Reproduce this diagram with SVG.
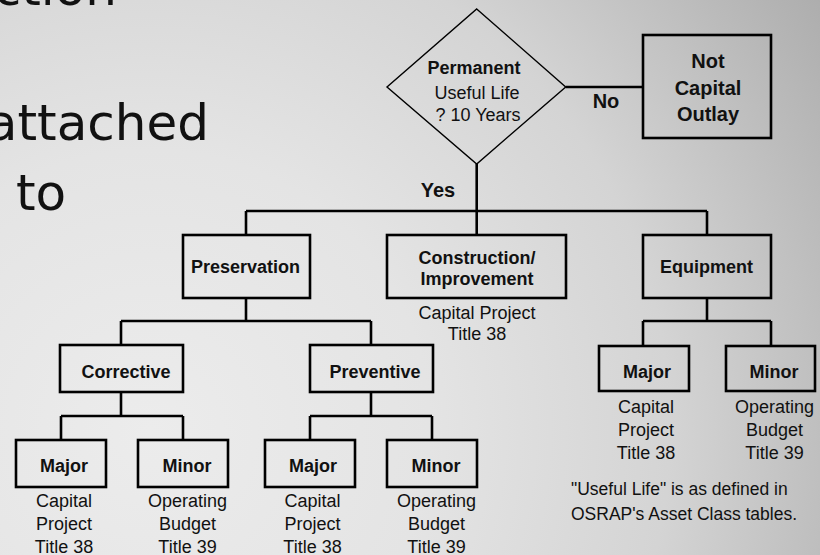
<svg xmlns="http://www.w3.org/2000/svg" width="820" height="555" viewBox="0 0 820 555">
<defs>
<radialGradient id="bg" gradientUnits="userSpaceOnUse" cx="150" cy="430" r="800">
<stop offset="0" stop-color="#ececec"/>
<stop offset="0.35" stop-color="#e4e4e4"/>
<stop offset="0.65" stop-color="#d4d4d4"/>
<stop offset="1" stop-color="#adadad"/>
</radialGradient>
<style>
.box{fill:none;stroke:#000;stroke-width:2.6}
.dia{fill:none;stroke:#000;stroke-width:1.4}
.con line{stroke:#000;stroke-width:2.6}
text{font-family:"Liberation Sans",Arial,sans-serif;fill:#111}
.b{font-weight:bold;font-size:18px;text-anchor:middle}
.bl{font-weight:bold;font-size:20px;text-anchor:middle}
.r{font-size:18px;text-anchor:middle}
.fn{font-size:17.5px}
.big{font-family:"DejaVu Sans",Verdana,sans-serif;font-size:50px;fill:#111}
</style>
</defs>
<rect width="820" height="555" fill="url(#bg)"/>
<text class="big" x="117" y="5" text-anchor="end">ction</text>
<text class="big" x="209" y="140" text-anchor="end">attached</text>
<text class="big" x="16" y="210">to</text>

<g class="con" id="connectors">
<line x1="565.7" y1="87" x2="643" y2="87"/>
<line x1="476.7" y1="164" x2="476.7" y2="235"/>
<line x1="246" y1="211" x2="707" y2="211"/>
<line x1="246" y1="211" x2="246" y2="235"/>
<line x1="707" y1="211" x2="707" y2="235"/>
<line x1="246" y1="298" x2="246" y2="321"/>
<line x1="121" y1="321" x2="371" y2="321"/>
<line x1="121" y1="321" x2="121" y2="345"/>
<line x1="371" y1="321" x2="371" y2="345"/>
<line x1="121" y1="392" x2="121" y2="416"/>
<line x1="61" y1="416" x2="183" y2="416"/>
<line x1="61" y1="416" x2="61" y2="440"/>
<line x1="183" y1="416" x2="183" y2="440"/>
<line x1="371" y1="392" x2="371" y2="416"/>
<line x1="310" y1="416" x2="432" y2="416"/>
<line x1="310" y1="416" x2="310" y2="440"/>
<line x1="432" y1="416" x2="432" y2="440"/>
<line x1="707" y1="298" x2="707" y2="321"/>
<line x1="643" y1="321" x2="771" y2="321"/>
<line x1="643" y1="321" x2="643" y2="346"/>
<line x1="771" y1="321" x2="771" y2="346"/>
<text class="bl" x="606" y="108">No</text>
<text class="bl" x="438" y="197">Yes</text>
</g>

<g id="decision">
<polygon class="dia" points="476.7,9 565.7,87 476.7,164 387,87"/>
<text class="b" x="474" y="74">Permanent</text>
<text class="r" x="477" y="99">Useful Life</text>
<text class="r" x="478" y="121">? 10 Years</text>
</g>
<g id="not-capital">
<rect class="box" x="643" y="35" width="128" height="103"/>
<text class="bl" x="708" y="67.5">Not</text>
<text class="bl" x="708" y="94.5">Capital</text>
<text class="bl" x="708" y="121">Outlay</text>
</g>
<g id="preservation">
<rect class="box" x="183" y="235" width="127" height="63"/>
<text class="b" x="245.5" y="273">Preservation</text>
</g>
<g id="construction">
<rect class="box" x="387" y="235" width="179" height="63"/>
<text class="b" x="477" y="264">Construction/</text>
<text class="b" x="477" y="285">Improvement</text>
<text class="r" x="477" y="319">Capital Project</text>
<text class="r" x="477" y="340">Title 38</text>
</g>
<g id="equipment">
<rect class="box" x="643" y="235" width="128" height="63"/>
<text class="b" x="706.5" y="273">Equipment</text>
</g>
<g id="corrective">
<rect class="box" x="60" y="345" width="123" height="47"/>
<text class="b" x="126" y="378">Corrective</text>
</g>
<g id="preventive">
<rect class="box" x="310" y="345" width="123" height="47"/>
<text class="b" x="375" y="378">Preventive</text>
</g>
<g id="corrective-major">
<rect class="box" x="16" y="440" width="90" height="47"/>
<text class="b" x="64" y="472">Major</text>
<text class="r" x="64" y="507">Capital</text>
<text class="r" x="64" y="530">Project</text>
<text class="r" x="64" y="552.5">Title 38</text>
</g>
<g id="corrective-minor">
<rect class="box" x="138" y="440" width="90" height="47"/>
<text class="b" x="187" y="472">Minor</text>
<text class="r" x="187.5" y="507">Operating</text>
<text class="r" x="187.5" y="530">Budget</text>
<text class="r" x="187.5" y="552.5">Title 39</text>
</g>
<g id="preventive-major">
<rect class="box" x="265" y="440" width="90" height="47"/>
<text class="b" x="313" y="472">Major</text>
<text class="r" x="312.5" y="507">Capital</text>
<text class="r" x="312.5" y="530">Project</text>
<text class="r" x="312.5" y="552.5">Title 38</text>
</g>
<g id="preventive-minor">
<rect class="box" x="387" y="440" width="90" height="47"/>
<text class="b" x="436" y="472">Minor</text>
<text class="r" x="436.5" y="507">Operating</text>
<text class="r" x="436.5" y="530">Budget</text>
<text class="r" x="436.5" y="552.5">Title 39</text>
</g>
<g id="equipment-major">
<rect class="box" x="599" y="346" width="90" height="45"/>
<text class="b" x="647" y="378">Major</text>
<text class="r" x="646" y="413">Capital</text>
<text class="r" x="646" y="436">Project</text>
<text class="r" x="646" y="459">Title 38</text>
</g>
<g id="equipment-minor">
<rect class="box" x="726" y="346" width="89" height="45"/>
<text class="b" x="774" y="378">Minor</text>
<text class="r" x="774.5" y="413">Operating</text>
<text class="r" x="774.5" y="436">Budget</text>
<text class="r" x="774.5" y="459">Title 39</text>
</g>
<g id="footnote">
<text class="fn" x="571" y="495">"Useful Life" is as defined in</text>
<text class="fn" x="571" y="520">OSRAP's Asset Class tables.</text>
</g>
</svg>
